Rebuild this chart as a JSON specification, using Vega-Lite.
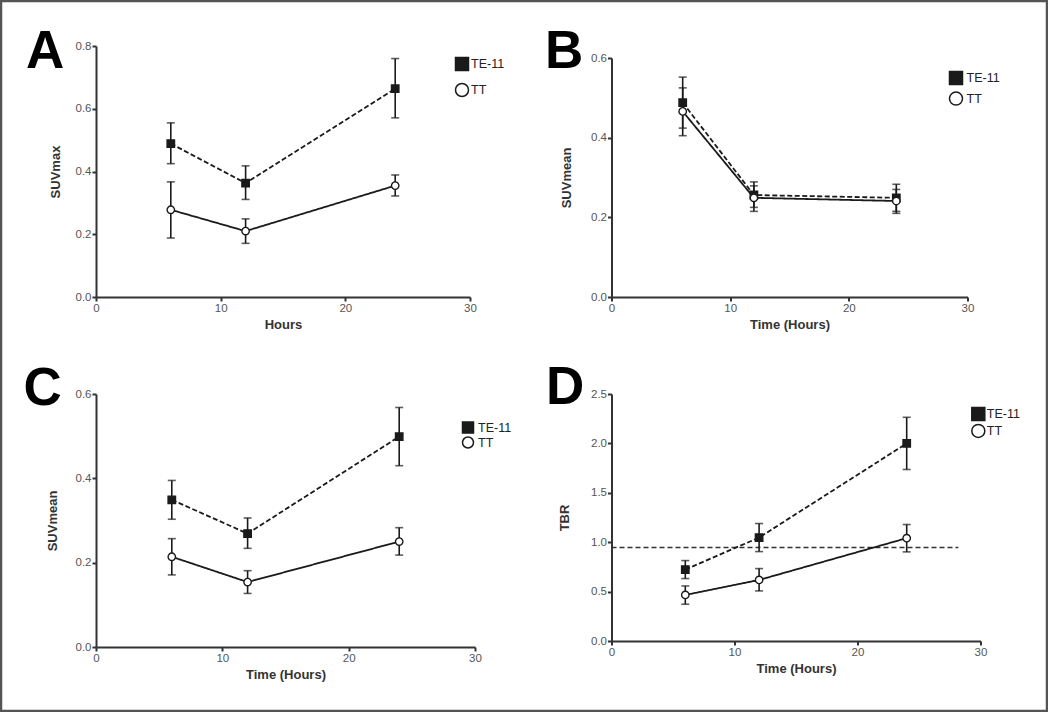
{
  "$schema": "https://vega.github.io/schema/vega-lite/v6.json",
  "autosize": {"type": "none"},
  "padding": 1,
  "background": "white",
  "spacing": 0,
  "resolve": {"scale": {"shape": "independent", "fill": "independent", "strokeDash": "independent"}},
  "datasets": {
    "a": [
      {"group": "TE-11", "hours": 6, "mean": 0.489, "lo": 0.425, "hi": 0.555},
      {"group": "TE-11", "hours": 12, "mean": 0.363, "lo": 0.311, "hi": 0.418},
      {"group": "TE-11", "hours": 24, "mean": 0.664, "lo": 0.571, "hi": 0.760},
      {"group": "TT", "hours": 6, "mean": 0.278, "lo": 0.188, "hi": 0.367},
      {"group": "TT", "hours": 12, "mean": 0.210, "lo": 0.171, "hi": 0.249},
      {"group": "TT", "hours": 24, "mean": 0.355, "lo": 0.322, "hi": 0.389}
    ],
    "b": [
      {"group": "TE-11", "hours": 6, "mean": 0.488, "lo": 0.424, "hi": 0.552},
      {"group": "TE-11", "hours": 12, "mean": 0.256, "lo": 0.225, "hi": 0.289},
      {"group": "TE-11", "hours": 24, "mean": 0.249, "lo": 0.215, "hi": 0.283},
      {"group": "TT", "hours": 6, "mean": 0.466, "lo": 0.405, "hi": 0.525},
      {"group": "TT", "hours": 12, "mean": 0.249, "lo": 0.215, "hi": 0.279},
      {"group": "TT", "hours": 24, "mean": 0.241, "lo": 0.210, "hi": 0.270}
    ],
    "c": [
      {"group": "TE-11", "hours": 6, "mean": 0.349, "lo": 0.303, "hi": 0.395},
      {"group": "TE-11", "hours": 12, "mean": 0.269, "lo": 0.234, "hi": 0.306},
      {"group": "TE-11", "hours": 24, "mean": 0.499, "lo": 0.430, "hi": 0.568},
      {"group": "TT", "hours": 6, "mean": 0.214, "lo": 0.171, "hi": 0.257},
      {"group": "TT", "hours": 12, "mean": 0.154, "lo": 0.127, "hi": 0.181},
      {"group": "TT", "hours": 24, "mean": 0.250, "lo": 0.218, "hi": 0.283}
    ],
    "d": [
      {"group": "TE-11", "hours": 6, "mean": 0.723, "lo": 0.632, "hi": 0.814},
      {"group": "TE-11", "hours": 12, "mean": 1.047, "lo": 0.905, "hi": 1.189},
      {"group": "TE-11", "hours": 24, "mean": 2.0, "lo": 1.736, "hi": 2.264},
      {"group": "TT", "hours": 6, "mean": 0.466, "lo": 0.372, "hi": 0.557},
      {"group": "TT", "hours": 12, "mean": 0.618, "lo": 0.507, "hi": 0.733},
      {"group": "TT", "hours": 24, "mean": 1.041, "lo": 0.902, "hi": 1.179}
    ],
    "thr": [
      {"start": 0, "end": 28.2, "level": 0.946}
    ],
    "empty": []
  },
  "hconcat": [
    {"width": 21.6, "height": 1, "data": {"name": "empty"}, "mark": "point"},
    {
      "spacing": 32.5,
      "resolve": {"scale": {"shape": "independent", "fill": "independent", "strokeDash": "independent"}},
      "hconcat": [
        {
          "spacing": 0,
          "resolve": {"scale": {"shape": "independent", "fill": "independent", "strokeDash": "independent"}},
          "vconcat": [
            {"width": 1, "height": 25, "data": {"name": "empty"}, "mark": "point"},
            {
              "spacing": 32,
              "resolve": {"scale": {"shape": "independent", "fill": "independent", "strokeDash": "independent"}},
              "vconcat": [
                {
                  "width": 374, "height": 251,
                  "data": {"name": "a"},
                  "title": {"text": "A", "anchor": "start", "frame": "group", "orient": "top", "offset": -81, "dx": -70, "fontSize": 53, "fontWeight": "bold", "font": "Liberation Sans", "color": "#000000", "baseline": "alphabetic", "align": "left"},
                  "layer": [
                    {"mark": {"type": "rule", "color": "#1a1a1a", "strokeWidth": 1.6},
                     "encoding": {
                       "x": {"field": "hours", "type": "quantitative", "scale": {"domain": [0, 30], "nice": false}, "axis": {"title": "Hours", "values": [0, 10, 20, 30], "format": "d", "labelFlush": false, "titlePadding": 4.5}},
                       "y": {"field": "lo", "type": "quantitative", "scale": {"domain": [0, 0.8], "nice": false}, "axis": {"title": "SUVmax", "values": [0, 0.2, 0.4, 0.6, 0.8], "format": ".1f", "titlePadding": 13}},
                       "y2": {"field": "hi"}}},
                    {"mark": {"type": "tick", "orient": "horizontal", "size": 8, "thickness": 1.6, "color": "#1a1a1a"},
                     "encoding": {"x": {"field": "hours", "type": "quantitative"}, "y": {"field": "lo", "type": "quantitative", "title": "SUVmax"}}},
                    {"mark": {"type": "tick", "orient": "horizontal", "size": 8, "thickness": 1.6, "color": "#1a1a1a"},
                     "encoding": {"x": {"field": "hours", "type": "quantitative"}, "y": {"field": "hi", "type": "quantitative", "title": "SUVmax"}}},
                    {"mark": {"type": "line", "color": "#1a1a1a", "strokeWidth": 1.8},
                     "encoding": {"x": {"field": "hours", "type": "quantitative"}, "y": {"field": "mean", "type": "quantitative", "title": "SUVmax"},
                       "strokeDash": {"field": "group", "type": "nominal", "scale": {"domain": ["TT", "TE-11"], "range": [[1, 0], [5, 2.5]]}, "legend": null}}},
                    {"mark": {"type": "point", "filled": true, "stroke": "#1a1a1a", "strokeWidth": 1.4, "size": 55, "opacity": 1},
                     "encoding": {"x": {"field": "hours", "type": "quantitative"}, "y": {"field": "mean", "type": "quantitative", "title": "SUVmax"},
                       "fill": {"field": "group", "type": "nominal", "title": null, "scale": {"domain": ["TE-11", "TT"], "range": ["#1a1a1a", "#ffffff"]},
                         "legend": {"title": null, "orient": "none", "legendX": 358.5, "legendY": 10.5, "rowPadding": 7, "labelOffset": 1.5, "symbolSize": 169, "padding": 0}},
                       "shape": {"field": "group", "type": "nominal", "title": null, "scale": {"domain": ["TE-11", "TT"], "range": ["square", "circle"]},
                         "legend": {"title": null, "orient": "none", "legendX": 358.5, "legendY": 10.5, "rowPadding": 7, "labelOffset": 1.5, "symbolSize": 169, "padding": 0}}}}
                  ]
                },
                {
                  "width": 379, "height": 253,
                  "data": {"name": "c"},
                  "title": {"text": "C", "anchor": "start", "frame": "group", "orient": "top", "offset": -70, "dx": -72.4, "fontSize": 53, "fontWeight": "bold", "font": "Liberation Sans", "color": "#000000", "baseline": "alphabetic", "align": "left"},
                  "layer": [
                    {"mark": {"type": "rule", "color": "#1a1a1a", "strokeWidth": 1.6},
                     "encoding": {
                       "x": {"field": "hours", "type": "quantitative", "scale": {"domain": [0, 30], "nice": false}, "axis": {"title": "Time (Hours)", "values": [0, 10, 20, 30], "format": "d", "labelFlush": false, "titlePadding": 4.5}},
                       "y": {"field": "lo", "type": "quantitative", "scale": {"domain": [0, 0.6], "nice": false}, "axis": {"title": "SUVmean", "values": [0, 0.2, 0.4, 0.6], "format": ".1f", "titlePadding": 15.5}},
                       "y2": {"field": "hi"}}},
                    {"mark": {"type": "tick", "orient": "horizontal", "size": 8, "thickness": 1.6, "color": "#1a1a1a"},
                     "encoding": {"x": {"field": "hours", "type": "quantitative"}, "y": {"field": "lo", "type": "quantitative", "title": "SUVmean"}}},
                    {"mark": {"type": "tick", "orient": "horizontal", "size": 8, "thickness": 1.6, "color": "#1a1a1a"},
                     "encoding": {"x": {"field": "hours", "type": "quantitative"}, "y": {"field": "hi", "type": "quantitative", "title": "SUVmean"}}},
                    {"mark": {"type": "line", "color": "#1a1a1a", "strokeWidth": 1.8},
                     "encoding": {"x": {"field": "hours", "type": "quantitative"}, "y": {"field": "mean", "type": "quantitative", "title": "SUVmean"},
                       "strokeDash": {"field": "group", "type": "nominal", "scale": {"domain": ["TT", "TE-11"], "range": [[1, 0], [5, 2.5]]}, "legend": null}}},
                    {"mark": {"type": "point", "filled": true, "stroke": "#1a1a1a", "strokeWidth": 1.4, "size": 55, "opacity": 1},
                     "encoding": {"x": {"field": "hours", "type": "quantitative"}, "y": {"field": "mean", "type": "quantitative", "title": "SUVmean"},
                       "fill": {"field": "group", "type": "nominal", "title": null, "scale": {"domain": ["TE-11", "TT"], "range": ["#1a1a1a", "#ffffff"]},
                         "legend": {"title": null, "orient": "none", "legendX": 365.5, "legendY": 27, "rowPadding": -5, "labelOffset": 3.5, "symbolSize": 121, "padding": 0}},
                       "shape": {"field": "group", "type": "nominal", "title": null, "scale": {"domain": ["TE-11", "TT"], "range": ["square", "circle"]},
                         "legend": {"title": null, "orient": "none", "legendX": 365.5, "legendY": 27, "rowPadding": -5, "labelOffset": 3.5, "symbolSize": 121, "padding": 0}}}}
                  ]
                }
              ]
            }
          ]
        },
        {
          "spacing": 0,
          "resolve": {"scale": {"shape": "independent", "fill": "independent", "strokeDash": "independent"}},
          "vconcat": [
            {"width": 1, "height": 25, "data": {"name": "empty"}, "mark": "point"},
            {
              "spacing": 31,
              "resolve": {"scale": {"shape": "independent", "fill": "independent", "strokeDash": "independent"}},
              "vconcat": [
                {
                  "width": 356, "height": 239,
                  "data": {"name": "b"},
                  "title": {"text": "B", "anchor": "start", "frame": "group", "orient": "top", "offset": -69, "dx": -66.5, "fontSize": 53, "fontWeight": "bold", "font": "Liberation Sans", "color": "#000000", "baseline": "alphabetic", "align": "left"},
                  "layer": [
                    {"mark": {"type": "rule", "color": "#1a1a1a", "strokeWidth": 1.6},
                     "encoding": {
                       "x": {"field": "hours", "type": "quantitative", "scale": {"domain": [0, 30], "nice": false}, "axis": {"title": "Time (Hours)", "values": [0, 10, 20, 30], "format": "d", "labelFlush": false, "titlePadding": 4.5}},
                       "y": {"field": "lo", "type": "quantitative", "scale": {"domain": [0, 0.6], "nice": false}, "axis": {"title": "SUVmean", "values": [0, 0.2, 0.4, 0.6], "format": ".1f", "titlePadding": 17.5}},
                       "y2": {"field": "hi"}}},
                    {"mark": {"type": "tick", "orient": "horizontal", "size": 8, "thickness": 1.6, "color": "#1a1a1a"},
                     "encoding": {"x": {"field": "hours", "type": "quantitative"}, "y": {"field": "lo", "type": "quantitative", "title": "SUVmean"}}},
                    {"mark": {"type": "tick", "orient": "horizontal", "size": 8, "thickness": 1.6, "color": "#1a1a1a"},
                     "encoding": {"x": {"field": "hours", "type": "quantitative"}, "y": {"field": "hi", "type": "quantitative", "title": "SUVmean"}}},
                    {"mark": {"type": "line", "color": "#1a1a1a", "strokeWidth": 1.8},
                     "encoding": {"x": {"field": "hours", "type": "quantitative"}, "y": {"field": "mean", "type": "quantitative", "title": "SUVmean"},
                       "strokeDash": {"field": "group", "type": "nominal", "scale": {"domain": ["TT", "TE-11"], "range": [[1, 0], [5, 2.5]]}, "legend": null}}},
                    {"mark": {"type": "point", "filled": true, "stroke": "#1a1a1a", "strokeWidth": 1.4, "size": 55, "opacity": 1},
                     "encoding": {"x": {"field": "hours", "type": "quantitative"}, "y": {"field": "mean", "type": "quantitative", "title": "SUVmean"},
                       "fill": {"field": "group", "type": "nominal", "title": null, "scale": {"domain": ["TE-11", "TT"], "range": ["#1a1a1a", "#ffffff"]},
                         "legend": {"title": null, "orient": "none", "legendX": 337, "legendY": 12.4, "rowPadding": 1.7, "labelOffset": 3, "symbolSize": 169, "padding": 0}},
                       "shape": {"field": "group", "type": "nominal", "title": null, "scale": {"domain": ["TE-11", "TT"], "range": ["square", "circle"]},
                         "legend": {"title": null, "orient": "none", "legendX": 337, "legendY": 12.4, "rowPadding": 1.7, "labelOffset": 3, "symbolSize": 169, "padding": 0}}}}
                  ]
                },
                {
                  "width": 369, "height": 247,
                  "data": {"name": "d"},
                  "title": {"text": "D", "anchor": "start", "frame": "group", "orient": "top", "offset": -69, "dx": -65.5, "fontSize": 53, "fontWeight": "bold", "font": "Liberation Sans", "color": "#000000", "baseline": "alphabetic", "align": "left"},
                  "layer": [
                    {"data": {"name": "thr"},
                     "mark": {"type": "rule", "color": "#333333", "strokeWidth": 1.6, "strokeDash": [5, 3]},
                     "encoding": {
                       "x": {"field": "start", "type": "quantitative", "scale": {"domain": [0, 30], "nice": false}, "axis": {"title": "Time (Hours)", "values": [0, 10, 20, 30], "format": "d", "labelFlush": false, "titlePadding": 4.5}},
                       "x2": {"field": "end"},
                       "y": {"field": "level", "type": "quantitative", "scale": {"domain": [0, 2.5], "nice": false}, "axis": {"title": "TBR", "values": [0, 0.5, 1, 1.5, 2, 2.5], "format": ".1f", "titlePadding": 19.5}}}},
                    {"mark": {"type": "rule", "color": "#1a1a1a", "strokeWidth": 1.6},
                     "encoding": {
                       "x": {"field": "hours", "type": "quantitative", "title": "Time (Hours)"},
                       "y": {"field": "lo", "type": "quantitative", "title": "TBR"},
                       "y2": {"field": "hi"}}},
                    {"mark": {"type": "tick", "orient": "horizontal", "size": 8, "thickness": 1.6, "color": "#1a1a1a"},
                     "encoding": {"x": {"field": "hours", "type": "quantitative", "title": "Time (Hours)"}, "y": {"field": "lo", "type": "quantitative", "title": "TBR"}}},
                    {"mark": {"type": "tick", "orient": "horizontal", "size": 8, "thickness": 1.6, "color": "#1a1a1a"},
                     "encoding": {"x": {"field": "hours", "type": "quantitative", "title": "Time (Hours)"}, "y": {"field": "hi", "type": "quantitative", "title": "TBR"}}},
                    {"mark": {"type": "line", "color": "#1a1a1a", "strokeWidth": 1.8},
                     "encoding": {"x": {"field": "hours", "type": "quantitative", "title": "Time (Hours)"}, "y": {"field": "mean", "type": "quantitative", "title": "TBR"},
                       "strokeDash": {"field": "group", "type": "nominal", "scale": {"domain": ["TT", "TE-11"], "range": [[1, 0], [5, 2.5]]}, "legend": null}}},
                    {"mark": {"type": "point", "filled": true, "stroke": "#1a1a1a", "strokeWidth": 1.4, "size": 55, "opacity": 1},
                     "encoding": {"x": {"field": "hours", "type": "quantitative", "title": "Time (Hours)"}, "y": {"field": "mean", "type": "quantitative", "title": "TBR"},
                       "fill": {"field": "group", "type": "nominal", "title": null, "scale": {"domain": ["TE-11", "TT"], "range": ["#1a1a1a", "#ffffff"]},
                         "legend": {"title": null, "orient": "none", "legendX": 359.3, "legendY": 12.4, "rowPadding": -2, "labelOffset": 1, "symbolSize": 169, "padding": 0}},
                       "shape": {"field": "group", "type": "nominal", "title": null, "scale": {"domain": ["TE-11", "TT"], "range": ["square", "circle"]},
                         "legend": {"title": null, "orient": "none", "legendX": 359.3, "legendY": 12.4, "rowPadding": -2, "labelOffset": 1, "symbolSize": 169, "padding": 0}}}}
                  ]
                }
              ]
            }
          ]
        }
      ]
    }
  ],
  "config": {
    "group": {"stroke": "#555555", "strokeWidth": 2.5},
    "width": 1046,
    "height": 710,
    "view": {"stroke": null},
    "font": "Liberation Sans",
    "axis": {"domainColor": "#333333", "domainWidth": 2, "tickColor": "#333333", "tickWidth": 2, "tickSize": 4, "labelColor": "#555555", "labelFontSize": 11.5, "labelFont": "Liberation Sans", "labelPadding": 1, "titleFont": "Liberation Sans", "titleFontSize": 13, "titleFontWeight": "bold", "titleColor": "#333333", "grid": false},
    "legend": {"labelFont": "Liberation Sans", "labelFontSize": 12.5, "labelColor": "#222222"}
  }
}
